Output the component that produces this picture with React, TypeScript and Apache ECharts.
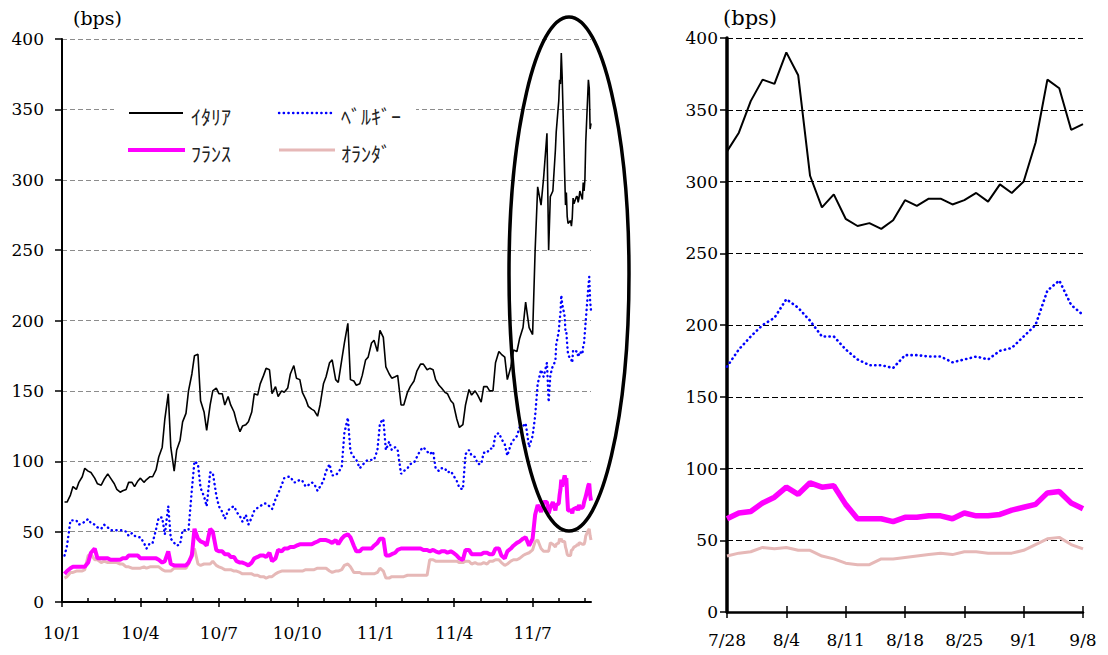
import { useEffect, useRef } from "react";
import * as echarts from "echarts";

// Monday observations, Jan 2010 - Jun 2011, followed by extra July 2011 dates
const historyDates = [
  "2010-01-04", "2010-01-11", "2010-01-18", "2010-01-25", "2010-02-01", "2010-02-08", "2010-02-15", "2010-02-22",
  "2010-03-01", "2010-03-08", "2010-03-15", "2010-03-22", "2010-03-29", "2010-04-05", "2010-04-12", "2010-04-19",
  "2010-04-26", "2010-05-03", "2010-05-10", "2010-05-17", "2010-05-24", "2010-05-31", "2010-06-07",
  "2010-06-14", "2010-06-21", "2010-06-28", "2010-07-05", "2010-07-12", "2010-07-19", "2010-07-26", "2010-08-02",
  "2010-08-09", "2010-08-16", "2010-08-23", "2010-08-30", "2010-09-06", "2010-09-13", "2010-09-20", "2010-09-27",
  "2010-10-04", "2010-10-11", "2010-10-18", "2010-10-25", "2010-11-01", "2010-11-08",
  "2010-11-15", "2010-11-22", "2010-11-29", "2010-12-06", "2010-12-13", "2010-12-20", "2010-12-27", "2011-01-03",
  "2011-01-10", "2011-01-17", "2011-01-24", "2011-01-31", "2011-02-07", "2011-02-14", "2011-02-21", "2011-02-28",
  "2011-03-07", "2011-03-14", "2011-03-21", "2011-03-28", "2011-04-04", "2011-04-11",
  "2011-04-18", "2011-04-25", "2011-05-02", "2011-05-09", "2011-05-16", "2011-05-23", "2011-05-30", "2011-06-06",
  "2011-06-13", "2011-06-20", "2011-06-27",
  "2011-07-01", "2011-07-04", "2011-07-07", "2011-07-11", "2011-07-14", "2011-07-18", "2011-07-20", "2011-07-22",
  "2011-07-25",
];

const italyHistory = [
  71, 76, 80, 89, 93, 88, 83, 91, 84, 78, 80, 85, 86, 85, 89, 94, 110, 148, 93, 115, 134, 162, 176,
  135, 140, 152, 148, 146, 135, 121, 126, 135, 147, 161, 165, 153, 150, 152, 168, 158, 144, 137, 132, 155, 170,
  158, 172, 198, 157, 155, 172, 184, 178, 188, 162, 160, 140, 149, 157, 169, 165, 165, 154, 149, 143, 130, 126,
  151, 150, 142, 153, 150, 178, 174, 167, 178, 195, 195,
  190, 250, 295, 282, 301, 333, 250, 288, 292,
];

const belgiumHistory = [
  33, 58, 58, 56, 59, 55, 52, 53, 51, 51, 50, 49, 46, 42, 42, 52, 60, 68, 42, 41, 51, 80, 98,
  75, 92, 76, 64, 65, 68, 61, 62, 60, 67, 70, 68, 73, 83, 89, 85, 87, 82, 85, 79, 86, 98,
  90, 96, 131, 103, 95, 100, 101, 108, 130, 114, 110, 91, 95, 99, 108, 107, 107, 93, 95, 93, 86, 80,
  108, 103, 98, 106, 109, 120, 112, 112, 118, 125, 110,
  118, 132, 155, 165, 160, 170, 142, 161, 168,
];

const franceHistory = [
  20, 24, 25, 25, 28, 38, 31, 31, 30, 30, 31, 33, 33, 31, 31, 31, 28, 36, 26, 26, 26, 33, 45,
  42, 52, 37, 36, 34, 32, 28, 27, 28, 32, 33, 35, 31, 36, 38, 39, 41, 41, 41, 43, 44, 43,
  44, 45, 48, 40, 36, 38, 38, 42, 45, 33, 35, 38, 38, 38, 38, 37, 37, 35, 36, 36, 33, 30,
  37, 34, 34, 35, 34, 38, 31, 38, 42, 45, 40,
  45, 62, 69, 64, 71, 71, 63, 67, 71,
];

const netherlandsHistory = [
  17, 21, 22, 22, 33, 30, 28, 28, 28, 27, 25, 24, 24, 25, 25, 25, 23, 22, 24, 24, 24, 35, 27,
  27, 27, 26, 24, 23, 22, 21, 20, 20, 19, 18, 18, 20, 22, 22, 22, 22, 23, 23, 24, 24, 22,
  22, 23, 27, 21, 21, 20, 20, 21, 22, 17, 18, 18, 19, 19, 19, 19, 30, 29, 29, 29, 29, 28,
  29, 28, 27, 27, 29, 30, 26, 29, 30, 33, 35,
  37, 43, 44, 38, 36, 36, 36, 42, 41,
];

// Thursday observations, Jan 2010 - Jun 2011
const midweekDates = [
  "2010-01-07", "2010-01-14", "2010-01-21", "2010-01-28",
  "2010-02-04", "2010-02-11", "2010-02-18", "2010-02-25",
  "2010-03-04", "2010-03-11", "2010-03-18", "2010-03-25",
  "2010-04-01", "2010-04-08", "2010-04-15", "2010-04-22", "2010-04-29",
  "2010-05-06", "2010-05-13", "2010-05-20", "2010-05-27",
  "2010-06-03", "2010-06-10", "2010-06-17", "2010-06-24",
  "2010-07-01", "2010-07-08", "2010-07-15", "2010-07-22", "2010-07-29",
  "2010-08-05", "2010-08-12", "2010-08-19", "2010-08-26",
  "2010-09-02", "2010-09-09", "2010-09-16", "2010-09-23", "2010-09-30",
  "2010-10-07", "2010-10-14", "2010-10-21", "2010-10-28",
  "2010-11-04", "2010-11-11", "2010-11-18", "2010-11-25",
  "2010-12-02", "2010-12-09", "2010-12-16", "2010-12-23", "2010-12-30",
  "2011-01-06", "2011-01-13", "2011-01-20", "2011-01-27",
  "2011-02-03", "2011-02-10", "2011-02-17", "2011-02-24",
  "2011-03-03", "2011-03-10", "2011-03-17", "2011-03-24", "2011-03-31",
  "2011-04-07", "2011-04-14", "2011-04-21", "2011-04-28",
  "2011-05-05", "2011-05-12", "2011-05-19", "2011-05-26",
  "2011-06-02", "2011-06-09", "2011-06-16", "2011-06-23",
];

const italyMidweek = [
  71, 82, 85, 95, 92, 84, 87, 88, 80, 79, 85, 82, 88, 87, 89, 103, 130, 110, 108, 128, 150,
  175, 143, 122, 150, 148, 140, 140, 128, 125, 128, 148, 155, 166, 148, 146, 149, 162, 159,
  149, 139, 136, 140, 160, 172, 156, 184, 158, 154, 161, 174, 186,
  193, 167, 159, 161, 140, 153, 164, 169, 166, 158, 152, 148, 141, 124, 140, 147, 147,
  153, 150, 170, 176, 158, 179, 187, 213,
];

const belgiumMidweek = [
  40, 58, 55, 57, 56, 53, 55, 51, 51, 51, 47, 47, 46, 38, 42, 60, 48, 45, 40, 51, 51,
  100, 81, 68, 92, 68, 59, 67, 64, 57, 55, 65, 68, 70, 66, 77, 88, 89, 85,
  86, 83, 84, 82, 93, 90, 92, 120, 107, 101, 97, 101, 101,
  127, 108, 108, 108, 93, 98, 103, 110, 105, 95, 95, 92, 90, 81, 105, 104, 98,
  106, 109, 119, 116, 104, 115, 124, 127,
];

const franceMidweek = [
  22, 25, 25, 25, 35, 31, 31, 30, 30, 31, 33, 33, 31, 31, 31, 30, 29, 27, 26, 26, 28,
  52, 43, 40, 50, 36, 34, 32, 29, 28, 26, 31, 33, 32, 29, 37, 38, 39, 40,
  41, 41, 42, 44, 44, 42, 41, 47, 46, 36, 38, 38, 40,
  45, 33, 34, 37, 38, 38, 38, 37, 36, 36, 36, 35, 35, 31, 37, 34, 34,
  35, 34, 38, 33, 36, 40, 43, 46,
];

const netherlandsMidweek = [
  18, 21, 22, 23, 34, 30, 29, 28, 28, 27, 25, 24, 24, 24, 25, 25, 22, 22, 24, 24, 27,
  38, 26, 27, 29, 25, 23, 23, 22, 20, 20, 19, 18, 17, 18, 21, 22, 22, 22,
  22, 23, 23, 24, 24, 21, 22, 26, 25, 21, 20, 20, 20,
  24, 17, 18, 18, 18, 19, 19, 19, 30, 29, 29, 29, 29, 28, 29, 27, 27,
  28, 29, 30, 28, 27, 30, 31, 34,
];

// Daily observations, 7/28 - 9/8 (business days)
const recentDates = [
  "2011-07-28", "2011-07-29", "2011-08-01", "2011-08-02", "2011-08-03", "2011-08-04", "2011-08-05",
  "2011-08-08", "2011-08-09", "2011-08-10", "2011-08-11", "2011-08-12", "2011-08-15", "2011-08-16",
  "2011-08-17", "2011-08-18", "2011-08-19", "2011-08-22", "2011-08-23", "2011-08-24", "2011-08-25",
  "2011-08-26", "2011-08-29", "2011-08-30", "2011-08-31", "2011-09-01", "2011-09-02", "2011-09-05",
  "2011-09-06", "2011-09-07", "2011-09-08",
];

const italyRecent = [
  321, 334, 356, 371, 368, 390, 374, 304, 282, 291, 274, 269, 271, 267, 273, 287, 283, 288, 288, 284,
  287, 292, 286, 298, 292, 300, 327, 371, 365, 336, 340,
];
const belgiumRecent = [
  171, 183, 192, 200, 205, 218, 212, 203, 192, 192, 183, 176, 172, 172, 170, 179, 179, 178, 178, 174,
  176, 178, 176, 182, 184, 192, 200, 224, 231, 214, 207,
];
const franceRecent = [
  65, 69, 70, 76, 80, 87, 82, 90, 87, 88, 75, 65, 65, 65, 63, 66, 66, 67, 67, 65,
  69, 67, 67, 68, 71, 73, 75, 83, 84, 76, 72,
];
const netherlandsRecent = [
  39, 41, 42, 45, 44, 45, 43, 43, 39, 37, 34, 33, 33, 37, 37, 38, 39, 40, 41, 40,
  42, 42, 41, 41, 41, 43, 47, 51, 52, 47, 44,
];

const seriesNames = ["ｲﾀﾘｱ", "ﾍﾞﾙｷﾞｰ", "ﾌﾗﾝｽ", "ｵﾗﾝﾀﾞ"];
const quarterTicks = [0, 3, 6, 9, 12, 15, 18];
const monthTicks = [0, 1, 2, 3, 4, 5, 6, 7, 8, 9, 10, 11, 12, 13, 14, 15, 16, 17, 18, 19, 20];

// months elapsed since Jan 2010, with the day as a fraction of its month
function monthIndex(iso: string): number {
  const [y, m, d] = iso.split("-").map(Number);
  const daysInMonth = new Date(y, m, 0).getDate();
  return (y - 2010) * 12 + (m - 1) + (d - 1) / daysInMonth;
}

function quarterLabel(v: number): string {
  const yy = 10 + Math.floor(v / 12);
  const mm = (v % 12) + 1;
  return `${yy}/${mm}`;
}

function dayLabel(iso: string): string {
  const [, m, d] = iso.split("-").map(Number);
  return `${m}/${d}`;
}

// join the Monday, Thursday and daily lists into one date-ordered [x, y] series
function longSeries(hist: number[], mid: number[], rec: number[]): number[][] {
  const rows: [string, number][] = [];
  historyDates.forEach((d, i) => rows.push([d, hist[i]]));
  midweekDates.forEach((d, i) => rows.push([d, mid[i]]));
  recentDates.forEach((d, i) => rows.push([d, rec[i]]));
  rows.sort((a, b) => (a[0] < b[0] ? -1 : a[0] > b[0] ? 1 : 0));
  return rows.map(([d, v]) => [monthIndex(d), v]);
}

const SERIF = "DejaVu Serif";
const JP = "Noto Sans CJK JP";

const COLORS = {
  italy: "#000000",
  belgium: "#0000ff",
  france: "#ff00ff",
  netherlands: "#e6b8b7",
};

function buildOption() {
  const leftMax = monthIndex(recentDates[recentDates.length - 1]);
  const dayLabels = recentDates.map(dayLabel);

  const yAxisBase = {
    type: "value",
    min: 0,
    max: 400,
    interval: 50,
    axisTick: { show: true, length: 7, lineStyle: { color: "#000", width: 1.5 } },
    axisLabel: { fontFamily: SERIF, fontSize: 17, color: "#000" },
  };

  const lineSeries = (name: string, data: any[], xi: number, yi: number, style: any, z: number) => ({
    name,
    type: "line",
    xAxisIndex: xi,
    yAxisIndex: yi,
    data,
    showSymbol: false,
    symbol: "none",
    silent: true,
    z,
    lineStyle: style,
  });

  const dotted = { type: [0.3, 4.4], cap: "round" };

  return {
    animation: false,
    backgroundColor: "#ffffff",
    grid: [
      { left: 62, top: 39, width: 529, height: 563 },
      { left: 727, top: 38, width: 356, height: 574 },
    ],
    xAxis: [
      {
        gridIndex: 0,
        type: "value",
        min: 0,
        max: leftMax,
        position: "bottom",
        axisLine: { show: true, onZero: false, lineStyle: { color: "#000", width: 2 } },
        axisTick: { show: true, length: 5, customValues: quarterTicks, lineStyle: { color: "#000", width: 1.5 } },
        axisLabel: {
          show: true,
          customValues: quarterTicks,
          formatter: (v: number) => quarterLabel(Math.round(v)),
          fontFamily: SERIF,
          fontSize: 17,
          color: "#000",
          margin: 22,
        },
        splitLine: { show: false },
      },
      {
        gridIndex: 0,
        type: "value",
        min: 0,
        max: leftMax,
        position: "bottom",
        axisLine: { show: false },
        axisTick: { show: true, inside: true, length: 4, customValues: monthTicks, lineStyle: { color: "#000", width: 1.5 } },
        axisLabel: { show: false },
        splitLine: { show: false },
      },
      {
        gridIndex: 1,
        type: "category",
        data: dayLabels,
        boundaryGap: false,
        position: "bottom",
        axisLine: { show: true, onZero: false, lineStyle: { color: "#000", width: 2.5 } },
        axisTick: { show: true, interval: 4, length: 6, lineStyle: { color: "#000", width: 1.5 } },
        axisLabel: { interval: 4, fontFamily: SERIF, fontSize: 17, color: "#000", margin: 19 },
        splitLine: { show: false },
      },
      {
        gridIndex: 1,
        type: "category",
        data: dayLabels,
        boundaryGap: false,
        position: "bottom",
        axisLine: { show: false },
        axisTick: { show: true, inside: true, interval: 4, length: 6, lineStyle: { color: "#000", width: 1.5 } },
        axisLabel: { show: false },
        splitLine: { show: false },
      },
    ],
    yAxis: [
      {
        ...yAxisBase,
        gridIndex: 0,
        axisLine: { show: true, lineStyle: { color: "#000", width: 2 } },
        axisLabel: { ...yAxisBase.axisLabel, margin: 18 },
        splitLine: { show: true, lineStyle: { color: "#8c8c8c", width: 1, type: [5, 3] } },
      },
      {
        ...yAxisBase,
        gridIndex: 1,
        axisLine: { show: true, lineStyle: { color: "#000", width: 3.5 } },
        axisLabel: { ...yAxisBase.axisLabel, margin: 9 },
        splitLine: { show: true, lineStyle: { color: "#000", width: 1.2, type: [6, 3] } },
      },
    ],
    series: [
      lineSeries(seriesNames[3], longSeries(netherlandsHistory, netherlandsMidweek, netherlandsRecent), 0, 0, { color: COLORS.netherlands, width: 3 }, 2),
      lineSeries(seriesNames[2], longSeries(franceHistory, franceMidweek, franceRecent), 0, 0, { color: COLORS.france, width: 4 }, 3),
      lineSeries(seriesNames[1], longSeries(belgiumHistory, belgiumMidweek, belgiumRecent), 0, 0, { color: COLORS.belgium, width: 2.4, ...dotted }, 4),
      lineSeries(seriesNames[0], longSeries(italyHistory, italyMidweek, italyRecent), 0, 0, { color: COLORS.italy, width: 1.6 }, 5),

      lineSeries(seriesNames[3], netherlandsRecent, 2, 1, { color: COLORS.netherlands, width: 3 }, 2),
      lineSeries(seriesNames[2], franceRecent, 2, 1, { color: COLORS.france, width: 5.5 }, 3),
      lineSeries(seriesNames[1], belgiumRecent, 2, 1, { color: COLORS.belgium, width: 2.6, ...dotted }, 4),
      lineSeries(seriesNames[0], italyRecent, 2, 1, { color: COLORS.italy, width: 2 }, 5),
    ],
    graphic: [
      // unit captions
      { type: "text", x: 73, y: 18, z: 20, style: { text: "(bps)", fontFamily: SERIF, fontSize: 19, fill: "#000", verticalAlign: "middle" } },
      { type: "text", x: 723, y: 18, z: 20, style: { text: "(bps)", fontFamily: SERIF, fontSize: 21, fill: "#000", verticalAlign: "middle" } },

      // legend block
      { type: "rect", z: 10, shape: { x: 114, y: 95, width: 302, height: 75 }, style: { fill: "#ffffff" } },
      { type: "line", z: 11, shape: { x1: 129, y1: 113, x2: 183, y2: 113 }, style: { stroke: COLORS.italy, lineWidth: 1.8 } },
      { type: "line", z: 11, shape: { x1: 279, y1: 113, x2: 333, y2: 113 }, style: { stroke: COLORS.belgium, lineWidth: 2.4, lineDash: [0.3, 4.4], lineCap: "round" } },
      { type: "line", z: 11, shape: { x1: 128, y1: 150, x2: 185, y2: 150 }, style: { stroke: COLORS.france, lineWidth: 4 } },
      { type: "line", z: 11, shape: { x1: 279, y1: 150, x2: 335, y2: 150 }, style: { stroke: COLORS.netherlands, lineWidth: 3 } },
      { type: "text", z: 11, x: 191, y: 116, style: { text: seriesNames[0], fontFamily: JP, fontSize: 20, fill: "#222", verticalAlign: "middle" } },
      { type: "text", z: 11, x: 341, y: 116, style: { text: seriesNames[1], fontFamily: JP, fontSize: 20, fill: "#222", verticalAlign: "middle" } },
      { type: "text", z: 11, x: 191, y: 153, style: { text: seriesNames[2], fontFamily: JP, fontSize: 20, fill: "#222", verticalAlign: "middle" } },
      { type: "text", z: 11, x: 341, y: 153, style: { text: seriesNames[3], fontFamily: JP, fontSize: 20, fill: "#222", verticalAlign: "middle" } },

      // highlight ring around the latest period
      { type: "ellipse", z: 30, shape: { cx: 569, cy: 274, rx: 60, ry: 257 }, style: { fill: "none", stroke: "#000", lineWidth: 3.5 } },
    ],
  };
}

export default function App() {
  const ref = useRef<HTMLDivElement>(null);
  useEffect(() => {
    if (!ref.current) return;
    const chart = echarts.init(ref.current, null, { renderer: "svg" });
    chart.setOption(buildOption() as any);
    return () => chart.dispose();
  }, []);
  return (
    <div
      ref={ref}
      style={{ position: "absolute", left: 0, top: 0, width: 1108, height: 655, background: "#fff" }}
    />
  );
}
